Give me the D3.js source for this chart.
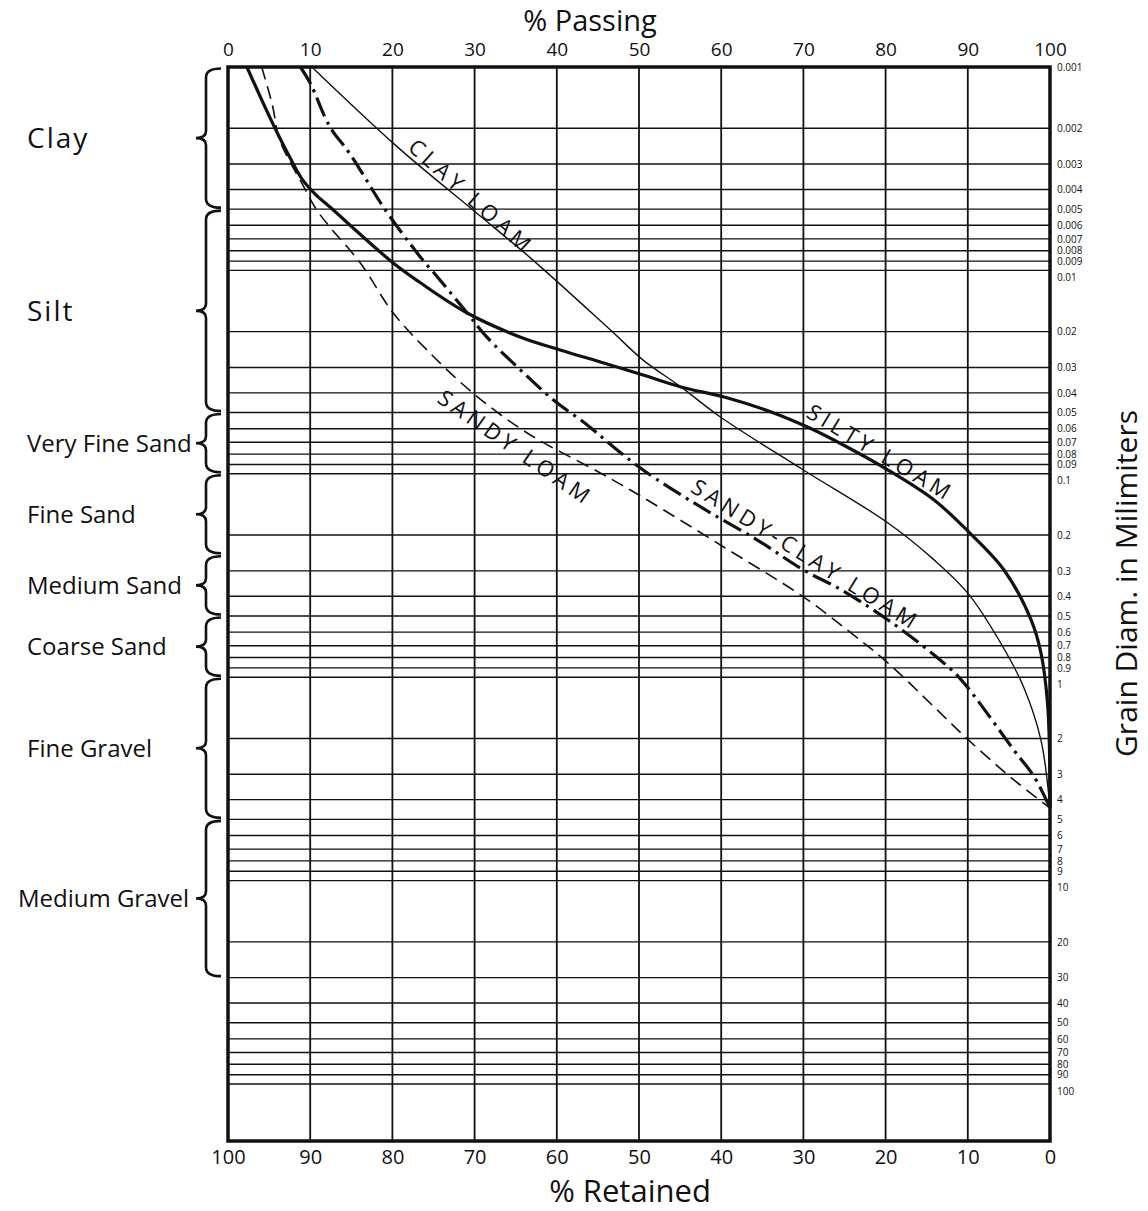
<!DOCTYPE html>
<html lang="en">
<head>
<meta charset="UTF-8">
<title>Grain size accumulation curves</title>
<script src="https://d3js.org/d3.v7.min.js"></script>
<style>
  body { margin: 0; background: #fff; }
  svg text { font-family: "Open Sans", "DejaVu Sans", sans-serif; fill: #111; }
</style>
</head>
<body>
<script>
// ---- data ----
// % passing along the top (bottom axis shows % retained = 100 - passing)
var pctTicks = [0, 10, 20, 30, 40, 50, 60, 70, 80, 90, 100];

// grain diameter (mm) grid lines / labels on the right
var diamTicks = ["0.001", "0.002", "0.003", "0.004", "0.005", "0.006", "0.007", "0.008", "0.009", "0.01",
  "0.02", "0.03", "0.04", "0.05", "0.06", "0.07", "0.08", "0.09", "0.1",
  "0.2", "0.3", "0.4", "0.5", "0.6", "0.7", "0.8", "0.9", "1",
  "2", "3", "4", "5", "6", "7", "8", "9", "10",
  "20", "30", "40", "50", "60", "70", "80", "90", "100"];

// soil classes on the left (bounds in mm)
var classNames = ["Clay", "Silt", "Very Fine Sand", "Fine Sand", "Medium Sand", "Coarse Sand", "Fine Gravel", "Medium Gravel"];
var classBounds = [0.001, 0.005, 0.05, 0.1, 0.25, 0.5, 1, 5, 30];

// curves: [% passing, diameter mm]
var siltyLoam = [[2.3, 0.001], [4.1, 0.00145], [6.0, 0.00211], [7.5, 0.00277], [9.1, 0.0036], [10.7, 0.00425],
  [12.4, 0.00488], [20.1, 0.0092], [23.4, 0.0115], [29.1, 0.0162], [35.6, 0.0213], [40.4, 0.0246],
  [45.3, 0.0282], [50.5, 0.0327], [55.1, 0.0374], [60.8, 0.0424], [66.4, 0.0502], [70.5, 0.0589],
  [73.7, 0.0682], [80.3, 0.0958], [85.9, 0.1345], [90.1, 0.193], [94.4, 0.297], [97.7, 0.523],
  [98.9, 0.76], [99.7, 1.34], [99.95, 2.4], [100, 4.4]];

var clayLoam = [[10.2, 0.001], [20.6, 0.00247], [29.8, 0.00505], [37.1, 0.0089], [46.5, 0.0196], [50.5, 0.0276],
  [55.1, 0.0374], [59.9, 0.0526], [70.0, 0.0958], [80.3, 0.1745], [85.9, 0.265], [90.0, 0.386],
  [94.0, 0.679], [96.8, 1.12], [98.9, 2.04], [100, 4.4]];

var sandyClayLoam = [[8.8, 0.001], [10.0, 0.0012], [12.4, 0.00197], [14.5, 0.00256], [16.1, 0.00321], [18.9, 0.00488],
  [23.4, 0.0086], [25.5, 0.0108], [29.1, 0.0162], [31.5, 0.0213], [35.6, 0.0309], [39.6, 0.0434],
  [43.7, 0.0575], [46.9, 0.0738], [50.5, 0.0958], [57.5, 0.1456], [64.4, 0.2116], [70.0, 0.297],
  [74.5, 0.37], [80.3, 0.523], [86.6, 0.82], [89.2, 1.03], [95.6, 2.28], [98.1, 3.1], [100, 4.4]];

var sandyLoam = [[4.1, 0.001], [5.4, 0.00154], [6.3, 0.00229], [9.1, 0.0038], [10.8, 0.00505], [12.4, 0.00612],
  [16.1, 0.0092], [20.1, 0.0162], [24.2, 0.0246], [29.8, 0.0401], [36.4, 0.063], [45.3, 0.0991],
  [50.4, 0.130], [60.3, 0.229], [70.0, 0.403], [75.8, 0.606], [80.3, 0.852], [85.9, 1.40],
  [90.1, 2.04], [95.2, 3.10], [100, 4.4]];

var curveNames = ["CLAY LOAM", "SANDY LOAM", "SILTY LOAM", "SANDY-CLAY LOAM"];

// ---- layout ----
var w = 1148, h = 1211;
var plotL = 228, plotR = 1050, plotT = 67, plotB = 1141;

var x = d3.scaleLinear().domain([0, 100]).range([plotL, plotR]);
var y = d3.scaleLog().domain([0.001, 100]).range([plotT, 1084]);

var svg = d3.select("body").append("svg")
  .attr("width", w)
  .attr("height", h);

// grid
var grid = svg.append("g").attr("stroke", "#111").attr("fill", "none");
grid.selectAll(".hline")
  .data(diamTicks.map(Number))
  .enter().append("line")
  .attr("x1", plotL).attr("x2", plotR)
  .attr("y1", function (d) { return y(d); })
  .attr("y2", function (d) { return y(d); })
  .attr("stroke-width", 1.4);
grid.selectAll(".vline")
  .data(pctTicks)
  .enter().append("line")
  .attr("x1", function (d) { return x(d); })
  .attr("x2", function (d) { return x(d); })
  .attr("y1", plotT).attr("y2", plotB)
  .attr("stroke-width", 1.8);

svg.append("rect")
  .attr("x", plotL).attr("y", plotT)
  .attr("width", plotR - plotL).attr("height", plotB - plotT)
  .attr("fill", "none").attr("stroke", "#111").attr("stroke-width", 3.5);

// axes
var topAxis = svg.append("g")
  .attr("transform", "translate(0," + plotT + ")")
  .call(d3.axisTop(x).tickValues(pctTicks).tickSize(0).tickPadding(11));

var bottomAxis = svg.append("g")
  .attr("transform", "translate(0," + plotB + ")")
  .call(d3.axisBottom(x).tickValues(pctTicks).tickSize(0).tickPadding(9)
    .tickFormat(function (d) { return 100 - d; }));

var rightAxis = svg.append("g")
  .attr("transform", "translate(" + plotR + ",0)")
  .call(d3.axisRight(y).tickValues(diamTicks.map(Number)).tickSize(0).tickPadding(7)
    .tickFormat(function (d, i) { return diamTicks[i]; }));

[topAxis, bottomAxis, rightAxis].forEach(function (a) {
  a.select(".domain").remove();
  a.selectAll("text").attr("fill", "#111")
    .style("font-family", '"Open Sans", "DejaVu Sans", sans-serif');
});
topAxis.selectAll("text").style("font-size", "19px");
bottomAxis.selectAll("text").style("font-size", "20px");
rightAxis.selectAll("text").style("font-size", "10px");
// decade labels sit a little under their lines, as drawn (crowded after the 6-9 group)
rightAxis.selectAll("text")
  .filter(function (d) { return d > 0.001 && Math.abs(Math.log10(d) - Math.round(Math.log10(d))) < 1e-9; })
  .attr("dy", "1em");

// titles
svg.append("text")
  .attr("x", 590).attr("y", 31)
  .attr("text-anchor", "middle")
  .style("font-size", "29px")
  .text("% Passing");

svg.append("text")
  .attr("x", 630).attr("y", 1202)
  .attr("text-anchor", "middle")
  .style("font-size", "31px")
  .text("% Retained");

svg.append("text")
  .attr("transform", "translate(1137," + ((y(0.01) + y(10)) / 2 + 8) + ") rotate(-90)")
  .attr("text-anchor", "middle")
  .style("font-size", "30px")
  .text("Grain Diam. in Milimiters");

// class braces
var spine = 206, tipX = 196, endX = 221;
var braces = svg.append("g");
classNames.forEach(function (name, i) {
  var ya = y(classBounds[i]) + 1.5,
    yb = y(classBounds[i + 1]) - 1.5,
    ym = (ya + yb) / 2;
  var p = d3.path();
  p.moveTo(endX, ya);
  p.quadraticCurveTo(spine, ya, spine, ya + 9);
  p.lineTo(spine, ym - 7);
  p.quadraticCurveTo(spine, ym, tipX, ym);
  p.quadraticCurveTo(spine, ym, spine, ym + 7);
  p.lineTo(spine, yb - 9);
  p.quadraticCurveTo(spine, yb, endX, yb);
  braces.append("path")
    .attr("d", p.toString())
    .attr("fill", "none")
    .attr("stroke", "#111")
    .attr("stroke-width", 2.6);

  var big = i < 2;
  var gravel = name == "Medium Gravel";
  braces.append("text")
    .attr("x", gravel ? 189 : 27)
    .attr("y", ym)
    .attr("dy", "0.35em")
    .attr("text-anchor", gravel ? "end" : "start")
    .style("font-size", big ? "28px" : "24px")
    .style("letter-spacing", big ? "2px" : "0px")
    .text(name);
});

// curves
var line = d3.line()
  .x(function (d) { return x(d[0]); })
  .y(function (d) { return y(d[1]); })
  .curve(d3.curveCatmullRom.alpha(0.5));

var series = [
  { data: siltyLoam, width: 3.2, dash: null },
  { data: clayLoam, width: 1.4, dash: null },
  { data: sandyClayLoam, width: 3.2, dash: "20,6,3,6" },
  { data: sandyLoam, width: 1.6, dash: "13,7" }
];
svg.append("g").selectAll("path")
  .data(series)
  .enter().append("path")
  .attr("d", function (d) { return line(d.data); })
  .attr("fill", "none")
  .attr("stroke", "#111")
  .attr("stroke-width", function (d) { return d.width; })
  .attr("stroke-dasharray", function (d) { return d.dash; });

// curve labels (anchor in chart units, angle in degrees)
var labelAnchor = [[29.6, 0.00435], [35.0, 0.0746], [79.4, 0.079], [70.3, 0.2505]];
var labelAngle = [42, 35, 31, 32];
svg.append("g").selectAll("text")
  .data(curveNames)
  .enter().append("text")
  .attr("transform", function (d, i) {
    return "translate(" + x(labelAnchor[i][0]) + "," + y(labelAnchor[i][1]) + ") rotate(" + labelAngle[i] + ")";
  })
  .attr("text-anchor", "middle")
  .attr("dy", "0.35em")
  .style("font-size", "22px")
  .style("letter-spacing", "4.5px")
  .text(function (d) { return d; });
</script>
</body>
</html>
